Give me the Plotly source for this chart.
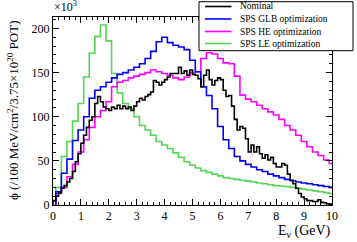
import numpy as np
import plotly.graph_objects as go

# ---------------- data ----------------
series_names = ["Nominal", "SPS GLB optimization", "SPS HE optimization", "SPS LE optimization"]

# coarse binning (0.2 GeV), bin centres
coarse_centers = [round(0.2 * (i + 1), 1) for i in range(50)]
# fine binning (0.1 GeV), bin edges
fine_edges = [round(0.1 * i, 1) for i in range(101)]

nominal = [5, 10, 14, 19, 22, 26, 30, 38, 49, 58,
           70, 79, 88, 96, 100, 115, 123, 117, 111, 109,
           107, 111, 109, 113, 109, 112, 109, 111, 107, 112,
           117, 121, 119, 123, 125, 128, 141, 139, 136, 139,
           142, 145, 149, 149, 149, 156, 149, 152, 147, 153,
           148, 147, 143, 134, 147, 153, 142, 136, 141, 144,
           142, 130, 123, 124, 112, 97, 85, 89, 87, 75,
           60, 68, 60, 66, 58, 53, 57, 51, 54, 47,
           43, 43, 47, 45, 35, 28, 24, 19, 13, 9,
           7, 5, 5, 4, 4, 6, 3, 2.5, 1.5, 1]

glb = [15, 36, 52, 73, 85, 100, 121, 130, 134, 139,
       144, 148, 150, 153, 156, 160, 166, 174, 185, 190,
       184, 181, 179, 176, 164, 151, 134, 124, 109, 89,
       74, 64, 55, 50, 46, 43, 40, 38, 35, 33,
       31, 29, 27.5, 26, 25, 24, 23, 22, 21, 20]

he = [13, 20, 32, 46, 60, 74, 88, 100, 107, 117,
      134, 139, 141, 144, 146, 148, 150, 153, 151, 149,
      147, 144, 142, 145, 150, 151, 166, 172.5, 171, 166,
      161, 160, 146, 124.5, 120, 117, 113, 109, 105.5, 102,
      97, 90, 85, 79, 72, 66, 60, 56, 51, 47]

le = [20, 55, 72, 95, 115, 145, 172, 191, 204, 186,
      149, 127, 115, 109, 100, 90, 85, 79, 72, 68,
      64, 59, 54, 49, 45, 42, 39, 37, 35, 33,
      31, 30, 29, 28, 27, 26, 25, 24, 23, 22,
      21.5, 21, 20, 19, 18, 17, 16, 15, 14, 13]

x_ticks = list(range(0, 11))
y_ticks = [0, 50, 100, 150, 200]
colors = ["#000000", "#0000ff", "#ff00ff", "#55d455"]

# ---------------- helpers ----------------
def step_from_centers(centers, vals, half):
    xs = [centers[0] - half] + [c - half for c in centers] + [centers[-1] + half]
    ys = [0] + list(vals) + [vals[-1]]
    return xs, ys

def step_from_edges(edges, vals):
    xs = [edges[0]] + list(edges[:-1]) + [edges[-1]]
    ys = [0] + list(vals) + [vals[-1]]
    return xs, ys

fig = go.Figure()
series = [
    step_from_edges(fine_edges, nominal),
    step_from_centers(coarse_centers, glb, 0.1),
    step_from_centers(coarse_centers, he, 0.1),
    step_from_centers(coarse_centers, le, 0.1),
]
# draw order: green, magenta, blue, black on top
for idx in [3, 2, 1, 0]:
    xs, ys = series[idx]
    fig.add_trace(go.Scatter(x=xs, y=ys, mode="lines", line=dict(color=colors[idx], width=1.6, shape="hv"),
                             name=series_names[idx], showlegend=False, hoverinfo="skip"))

# plot area in pixels
L, R, T, B = 53, 332, 17, 205
W, H = 357, 242
def px(xp):
    return (xp - L) / (R - L)
def py(yp):
    return (B - yp) / (B - T)

font_family = "Liberation Serif"

axis_common = dict(showline=True, linecolor="black", linewidth=1, mirror="ticks",
                   ticks="inside", tickcolor="black", ticklen=6, tickwidth=1,
                   showgrid=False, zeroline=False,
                   tickfont=dict(family=font_family, size=12, color="black"))

fig.update_xaxes(range=[0, 10], tickvals=x_ticks, ticktext=[str(v) for v in x_ticks],
                 minor=dict(dtick=0.2, ticks="inside", ticklen=3, tickcolor="black", showgrid=False),
                 **axis_common)
fig.update_yaxes(range=[0, 213], tickvals=y_ticks, ticktext=[str(v) for v in y_ticks],
                 minor=dict(dtick=10, ticks="inside", ticklen=3, tickcolor="black", showgrid=False),
                 **axis_common)

shapes = []
annotations = []

# legend box
shapes.append(dict(type="rect", xref="paper", yref="paper",
                   x0=px(199), x1=px(353), y0=py(50.7), y1=py(1.7),
                   line=dict(color="black", width=1), fillcolor="white", layer="above"))
rows = [6.5, 19, 31.5, 43.5]
for i, name in enumerate(series_names):
    shapes.append(dict(type="line", xref="paper", yref="paper",
                       x0=px(205), x1=px(231.5), y0=py(rows[i]), y1=py(rows[i]),
                       line=dict(color=colors[i], width=1.6), layer="above"))
    annotations.append(dict(text=name, xref="paper", yref="paper", x=px(237.5), y=py(rows[i]),
                            xanchor="left", yanchor="middle", showarrow=False,
                            font=dict(family=font_family, size=9.5, color="black")))

# exponent label
annotations.append(dict(text="×10<sup>3</sup>", xref="paper", yref="paper", x=px(52), y=py(16),
                        xanchor="left", yanchor="bottom", showarrow=False,
                        font=dict(family=font_family, size=12, color="black")))
# axis titles
annotations.append(dict(text="E<sub>ν</sub> (GeV)", xref="paper", yref="paper", x=px(333), y=py(231),
                        xanchor="right", yanchor="middle", showarrow=False,
                        font=dict(family=font_family, size=14, color="black")))
annotations.append(dict(text="ϕ (/100 MeV/cm<sup>2</sup>/3.75×10<sup>20</sup> POT)", xref="paper", yref="paper",
                        x=px(13), y=py(111), textangle=-90,
                        xanchor="center", yanchor="middle", showarrow=False,
                        font=dict(family=font_family, size=13, color="black")))

fig.update_layout(width=W, height=H, margin=dict(l=L, r=W - R, t=T, b=H - B, pad=0),
                  paper_bgcolor="white", plot_bgcolor="white",
                  shapes=shapes, annotations=annotations, showlegend=False)

fig.write_html("out.html", config={"displayModeBar": False, "staticPlot": True},
               post_script="document.body.style.margin='0';document.body.style.overflow='hidden';")
